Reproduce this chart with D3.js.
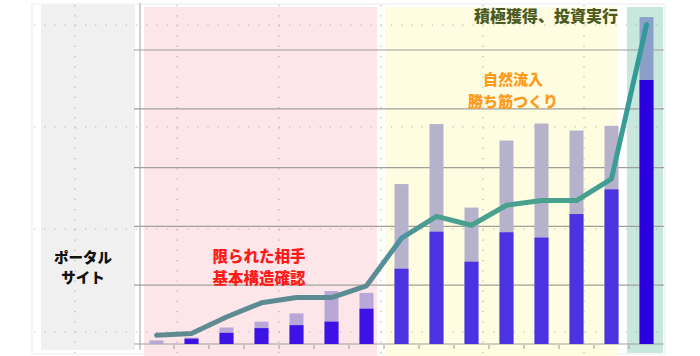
<!DOCTYPE html>
<html><head><meta charset="utf-8">
<script src="https://cdn.jsdelivr.net/npm/d3@7"></script>
<style>
html,body{margin:0;padding:0;background:#fff;}
svg{display:block;font-family:"Noto Sans CJK JP","Noto Sans",sans-serif;}
</style></head>
<body>
<svg id="chart" width="700" height="356"></svg>
<script>
// ---- data ----
const categories = ["1","2","3","4","5","6","7","8","9","10","11","12","13","14","15"];
const totalValues = [6, 11, 28, 38, 52, 90, 87, 272, 374, 232, 346, 375, 363, 371, 556];
const coreValues  = [0, 9, 19, 27, 32, 38, 60, 128, 191, 140, 190, 181, 221, 263, 449];
const lineValues  = [15, 18, 46, 70, 79, 79, 99, 180, 217, 202, 236, 244, 244, 281, 543];
const phaseNames  = ["限られた相手\n基本構造確認", "自然流入\n勝ち筋つくり", "積極獲得、投資実行"];
const phaseStart  = [0, 7, 14];
const phaseEnd    = [6, 13, 14];
const yTicks = [0, 100, 200, 300, 400, 500];
const portalLabel = "ポータル\nサイト";

// ---- layout ----
const svg = d3.select("#chart");
const x = d3.scaleBand().domain(categories).range([139, 664]).paddingInner(0.6).paddingOuter(0.3);
const y = d3.scaleLinear().domain([0, 600]).range([344, 344 - 6 * 58.8]);
const step = x.step();
const bandStart = i => 139 + i * step;

const phaseFill = ["#fde6e9", "#fefde1", "#c8e8dd"];
const phaseDark = ["#3d12e4", "#4b33e2", "#2a00de"];
const phaseLight = ["#b9a7d8", "#b6b2cc", "#8c9fc9"];
const phaseOf = i => i <= phaseEnd[0] ? 0 : (i <= phaseEnd[1] ? 1 : 2);

// frame
svg.append("rect").attr("x", 32).attr("y", 4).attr("width", 633).attr("height", 350)
  .attr("fill", "#fff").attr("stroke", "#ececec");

// portal region
svg.append("rect").attr("x", 41).attr("y", 5).attr("width", 94).attr("height", 345).attr("fill", "#f0f0f0");

// phase regions
const insetL = [5, 1, -2], insetR = [7, 12, 1];
phaseStart.forEach((s, k) => {
  const x0 = bandStart(s) + insetL[k];
  const x1 = bandStart(phaseEnd[k] + 1) - insetR[k];
  svg.append("rect").attr("x", x0).attr("y", 7).attr("width", x1 - x0).attr("height", (k === 2 ? 346 : 349))
    .attr("fill", phaseFill[k]);
});

// dotted background grid
const dotRows = [25, 127, 229, 332], dotCols = [75, 177, 279, 381, 483, 584];
dotRows.forEach(v => svg.append("line").attr("x1", 34).attr("x2", 664).attr("y1", v).attr("y2", v)
  .attr("stroke", "#9a9a9a").attr("stroke-width", 1.2).attr("stroke-dasharray", "1.2,9").attr("opacity", 0.7));
dotCols.forEach(v => svg.append("line").attr("x1", v).attr("x2", v).attr("y1", 5).attr("y2", 354)
  .attr("stroke", "#9a9a9a").attr("stroke-width", 1.2).attr("stroke-dasharray", "1.2,9").attr("opacity", 0.7));

// gridlines
svg.append("g").selectAll("line").data(yTicks.slice(1)).join("line")
  .attr("x1", 134).attr("x2", 664).attr("y1", d => y(d)).attr("y2", d => y(d))
  .attr("stroke", "#a0a098").attr("stroke-width", 1.2);

// axes
const xAxis = d3.axisBottom(x).tickSize(0).tickFormat("");
svg.append("g").attr("transform", `translate(0,${y(0)})`).call(xAxis)
  .call(g => g.select(".domain").attr("stroke", "#a0a0a0").attr("d", `M134,0H664`));
svg.append("g").selectAll("line").data(d3.range(1, categories.length)).join("line")
  .attr("x1", i => bandStart(i)).attr("x2", i => bandStart(i)).attr("y1", y(0) + 1).attr("y2", y(0) + 5)
  .attr("stroke", "#999");
svg.append("line").attr("x1", 140).attr("x2", 140).attr("y1", 3).attr("y2", 350).attr("stroke", "#a0a0a0");

// bars
svg.append("g").selectAll("rect").data(categories).join("rect")
  .attr("x", d => x(d)).attr("width", x.bandwidth())
  .attr("y", (d, i) => y(totalValues[i])).attr("height", (d, i) => y(0) - y(totalValues[i]))
  .attr("fill", (d, i) => phaseLight[phaseOf(i)]);
svg.append("g").selectAll("rect").data(categories).join("rect")
  .attr("x", d => x(d)).attr("width", x.bandwidth())
  .attr("y", (d, i) => y(coreValues[i])).attr("height", (d, i) => y(0) - y(coreValues[i]))
  .attr("fill", (d, i) => phaseDark[phaseOf(i)]);

// line with gradient
const defs = svg.append("defs");
const grad = defs.append("linearGradient").attr("id", "lg").attr("gradientUnits", "userSpaceOnUse")
  .attr("x1", 150).attr("x2", 650).attr("y1", 0).attr("y2", 0);
[["0%", "#5f8b90"], ["45%", "#5a8c94"], ["50%", "#4c93a0"], ["58%", "#4aa08e"], ["85%", "#4aa08e"], ["100%", "#2f9a9a"]]
  .forEach(([o, c]) => grad.append("stop").attr("offset", o).attr("stop-color", c));
const line = d3.line().x((d, i) => x(categories[i]) + x.bandwidth() / 2).y(d => y(d));
svg.append("path").datum(lineValues).attr("d", line).attr("fill", "none")
  .attr("stroke", "url(#lg)").attr("stroke-width", 5).attr("stroke-linejoin", "round").attr("stroke-linecap", "round");

// text labels
function multiText(txt, cx, cy, lh, size, color) {
  const lines = txt.split("\n");
  lines.forEach((l, j) => svg.append("text").attr("text-anchor", "middle").attr("font-size", size)
    .attr("font-weight", 900).attr("fill", color)
    .attr("x", cx).attr("y", cy + j * lh).attr("dominant-baseline", "central").text(l));
}
multiText(portalLabel, 83, 256, 20, 14.5, "#111");
multiText(phaseNames[0], 259, 255, 21.5, 15.5, "#ff1a1a");
multiText(phaseNames[1], 513, 78.5, 21.5, 15, "#ff9b1c");
multiText(phaseNames[2], 546, 15, 18, 16, "#4b5a23");
</script>
</body></html>
